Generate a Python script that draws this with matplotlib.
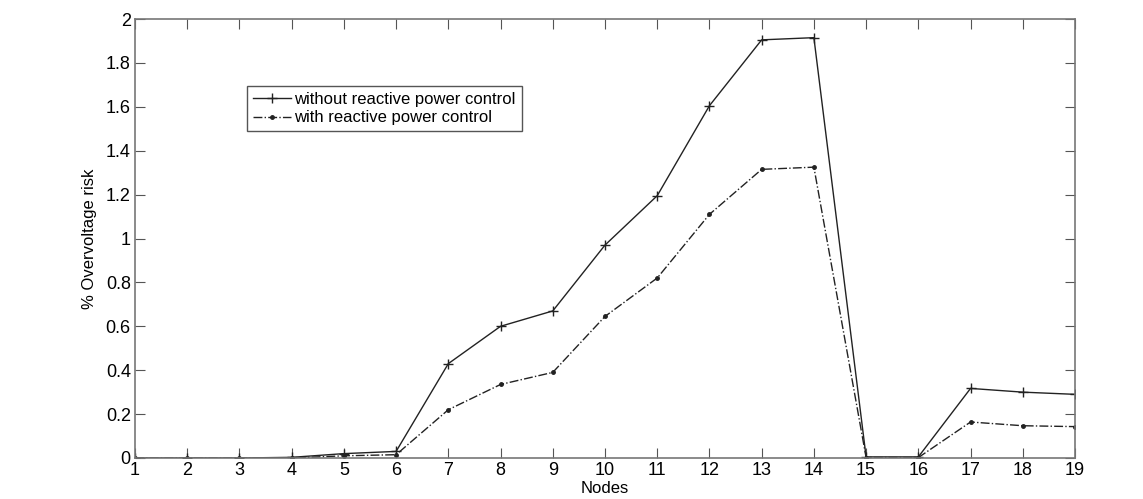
import matplotlib
matplotlib.use("Agg")
import matplotlib.pyplot as plt

plt.rcParams['font.family'] = ['Liberation Sans', 'DejaVu Sans']

nodes = list(range(1, 20))
without_control = [0, 0, 0, 0.003, 0.02, 0.03, 0.43, 0.60, 0.67, 0.97, 1.195,
                   1.605, 1.905, 1.915, 0.005, 0.005, 0.317, 0.30, 0.29]
with_control = [0, 0, 0, 0, 0.01, 0.015, 0.22, 0.335, 0.39, 0.645, 0.82,
                1.11, 1.315, 1.325, 0.002, 0.002, 0.164, 0.147, 0.143]

fig = plt.figure(figsize=(11.43, 4.99), dpi=100)
ax = fig.add_axes([135 / 1143, 1 - 458 / 499, 940 / 1143, 439 / 499])

ax.plot(nodes, without_control, color='#222222', lw=1.0, marker='+', ms=7, mew=1.0,
        label='without reactive power control')
ax.plot(nodes, with_control, color='#222222', lw=1.0, ls='-.', marker='.', ms=5,
        label='with reactive power control')

ax.set_xlim(1, 19)
ax.set_ylim(0, 2)
ax.set_xticks(nodes)
ax.set_yticks([0, 0.2, 0.4, 0.6, 0.8, 1, 1.2, 1.4, 1.6, 1.8, 2])
ax.set_yticklabels(['0', '0.2', '0.4', '0.6', '0.8', '1', '1.2', '1.4', '1.6', '1.8', '2'])
ax.tick_params(direction='in', top=True, right=True, length=7, labelsize=13,
               color='#555555', pad=3)
for s in ax.spines.values():
    s.set_color('#777777')
    s.set_linewidth(1.2)

ax.set_xlabel('Nodes', fontsize=12, labelpad=1)
ax.set_ylabel('% Overvoltage risk', fontsize=12, labelpad=6)

leg = ax.legend(loc='upper left', bbox_to_anchor=(0.119, 0.847), fontsize=12,
                fancybox=False, framealpha=1, edgecolor='#555555',
                handlelength=2.3, handletextpad=0.2, borderpad=0.35,
                labelspacing=0.2, borderaxespad=0)
leg.get_frame().set_linewidth(1.0)

fig.savefig('out.png', dpi=100)
